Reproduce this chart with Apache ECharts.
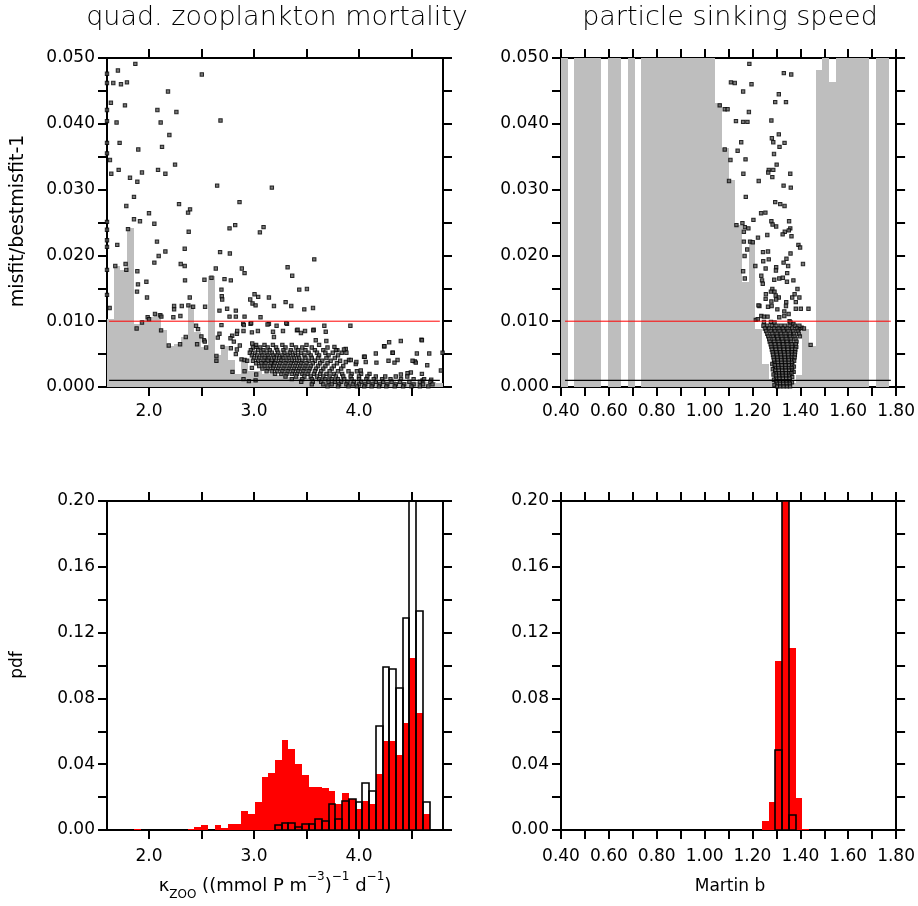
<!DOCTYPE html>
<html>
<head>
<meta charset="utf-8">
<script src="https://cdn.jsdelivr.net/npm/echarts@6/dist/echarts.min.js"></script>
<style>
  html, body { margin: 0; background: #fff; }
  #chart { width: 918px; height: 906px; }
</style>
</head>
<body>
<div id="chart"></div>
<script>
// bins of the parameter axes
var zooStart = 1.6, zooBin = 0.064;
var martinStart = 0.4, martinBin = 0.028;

// lower envelope of misfit (grey) per bin
var zooEnvelope = [0.0104,0.0184,0.0178,0.0241,0.0096,0.0102,0.0107,0.0112,0.0086,0.0063,
  0.0066,0.0076,0.0124,0.0084,0.0061,0.0168,0.0048,0.0063,0.0041,0.0020,
  0.0041,0.0025,0.0024,0.0020,0.0020,0.0018,0.0016,0.0015,0.0015,0.0014,
  0.0014,0.0013,0.0013,0.0012,0.0012,0.0011,0.0011,0.0010,0.0010,0.0010,
  0.0009,0.0009,0.0009,0.0008,0.0008,0.0008,0.0007,0.0007,0.0007,0.0006];
var martinEnvelope = [0.05,0,0.05,0.05,0.05,0.05,0,0.05,0.05,0,
  0.05,0,0.05,0.05,0.05,0.05,0.05,0.05,0.05,0.05,
  0.05,0.05,0.05,0.0432,0.0363,0.0315,0.0246,0.0160,0.0222,0.0088,
  0.0035,0.0012,0.0005,0.0005,0.0006,0.0018,0.0088,0.0062,0.0482,0.05,
  0.0464,0.05,0.05,0.05,0.05,0.05,0,0.05,0.05,0];

// pdf histograms: posterior (red) and outlined histogram
var zooPost = [0,0,0,0,0.0004,0,0,0,0,0,
  0,0,0.0008,0.0018,0.003,0,0.003,0.0012,0.0036,0.0036,
  0.0115,0.0099,0.017,0.032,0.0346,0.0425,0.0547,0.0492,0.040,0.0334,
  0.0261,0.0261,0.0255,0.0235,0.0158,0.0225,0.019,0.0128,0.0176,0.0158,
  0.034,0.054,0.054,0.0455,0.065,0.1045,0.071,0.0099,0,0];
var zooOutline = [0,0,0,0,0,0,0,0,0,0,
  0,0,0,0,0,0,0,0,0,0,
  0,0,0,0,0,0.0028,0.0045,0.004,0.002,0.0036,
  0.0036,0.0069,0.0057,0.016,0.0065,0.0178,0.0186,0.0172,0.0283,0.0235,
  0.063,0.0988,0.098,0.0866,0.1287,0.215,0.1334,0.0172,0,0];
var martinPost = [0,0,0,0,0,0,0,0,0,0,
  0,0,0,0,0,0,0,0,0,0,
  0,0,0,0,0,0,0,0,0,0,
  0.0057,0.0172,0.1027,0.215,0.1106,0.0197,0.0004,0,0,0,
  0,0,0,0,0,0,0,0,0,0];
var martinOutline = [0,0,0,0,0,0,0,0,0,0,
  0,0,0,0,0,0,0,0,0,0,
  0,0,0,0,0,0,0,0,0,0,
  0,0,0.0488,0.215,0.0091,0,0,0,0,0,
  0,0,0,0,0,0,0,0,0,0];

// reference lines
var misfitLimit = 0.01, misfitFloor = 0.001;
var zooLineSpan = [1.62, 4.77];
var martinLineSpan = [0.417, 1.778];

// misfit samples: quad. zooplankton mortality
var zooMisfit = [
  [1.870,0.0491],[1.704,0.0481],[1.600,0.0476],[1.660,0.0462],[1.733,0.0460],[1.790,0.0463],[1.600,0.0462],[2.503,0.0475],
  [2.181,0.0449],[1.637,0.0432],[1.771,0.0428],[2.080,0.0421],[2.261,0.0418],[1.600,0.0421],[1.691,0.0402],[2.111,0.0402],
  [1.600,0.0404],[2.681,0.0405],[2.194,0.0383],[1.720,0.0371],[1.600,0.0371],[2.124,0.0365],[1.898,0.0361],[1.600,0.0355],
  [1.628,0.0345],[2.248,0.0338],[1.711,0.0330],[1.933,0.0326],[2.086,0.0330],[1.641,0.0324],[2.156,0.0324],[1.819,0.0318],
  [1.889,0.0312],[2.649,0.0306],[3.170,0.0303],[2.862,0.0281],[1.857,0.0289],[1.784,0.0275],[2.286,0.0278],[2.391,0.0270],
  [2.372,0.0265],[2.000,0.0264],[1.857,0.0255],[1.914,0.0252],[2.051,0.0248],[1.600,0.0251],[1.600,0.0239],[1.600,0.0223],
  [1.600,0.0213],[2.821,0.0246],[2.767,0.0241],[3.091,0.0243],[3.056,0.0235],[1.800,0.0240],[2.378,0.0236],[2.076,0.0221],
  [1.698,0.0216],[2.156,0.0206],[2.092,0.0199],[2.340,0.0210],[2.677,0.0205],[2.770,0.0203],[3.574,0.0194],[2.051,0.0189],
  [1.679,0.0184],[1.777,0.0187],[1.784,0.0178],[2.302,0.0187],[2.340,0.0184],[2.636,0.0180],[2.884,0.0180],[2.910,0.0173],
  [3.320,0.0182],[1.889,0.0176],[3.364,0.0169],[1.600,0.0178],[1.600,0.0140],[2.595,0.0166],[2.719,0.0164],[2.779,0.0162],
  [2.343,0.0162],[2.528,0.0163],[1.895,0.0156],[1.975,0.0160],[3.431,0.0148],[3.504,0.0149],[1.886,0.0145],[2.690,0.0148],
  [2.693,0.0138],[2.697,0.0133],[1.981,0.0136],[2.388,0.0136],[3.005,0.0141],[3.040,0.0137],[2.964,0.0133],[2.986,0.0127],
  [3.015,0.0124],[3.142,0.0136],[3.301,0.0129],[3.355,0.0123],[3.479,0.0118],[3.562,0.0120],[1.625,0.0120],[2.239,0.0123],
  [2.312,0.0123],[2.239,0.0118],[2.375,0.0124],[2.420,0.0122],[2.534,0.0122],[3.190,0.0123],[2.671,0.0116],[2.744,0.0119],
  [2.827,0.0116],[2.767,0.0107],[2.827,0.0107],[2.910,0.0107],[3.062,0.0106],[2.057,0.0111],[2.108,0.0109],[2.118,0.0107],
  [1.987,0.0106],[2.000,0.0103],[1.933,0.0098],[1.882,0.0089],[2.232,0.0106],[2.299,0.0108],[2.188,0.0063],[2.296,0.0065],
  [2.350,0.0076],[3.670,0.0093],[3.918,0.0093],[4.595,0.0072],[4.796,0.0052],[2.115,0.0086],[2.448,0.0093],[2.467,0.0088],
  [2.458,0.0065],[2.499,0.0077],[2.524,0.0071],[2.531,0.0069],[2.544,0.0060],[2.642,0.0047],[2.642,0.0040],[2.655,0.0075],
  [2.671,0.0081],[2.690,0.0094],[2.700,0.0061],[2.779,0.0059],[2.792,0.0078],[2.837,0.0081],[2.808,0.0069],[2.837,0.0057],
  [2.827,0.0050],[2.865,0.0063],[2.897,0.0096],[2.900,0.0085],[2.881,0.0042],[2.910,0.0041],[2.935,0.0040],[2.967,0.0096],
  [2.980,0.0083],[2.983,0.0066],[3.015,0.0061],[2.795,0.0023],[2.910,0.0024],[2.980,0.0029],[3.021,0.0019],[2.900,0.0012],
  [2.951,0.0009],[3.015,0.0010],[3.142,0.0096],[3.215,0.0093],[3.314,0.0096],[3.181,0.0084],[3.190,0.0076],[3.276,0.0085],
  [3.409,0.0086],[3.447,0.0082],[3.486,0.0085],[3.568,0.0087],[3.689,0.0070],[3.588,0.0071],[3.766,0.0061],[3.794,0.0056],
  [3.836,0.0052],[3.874,0.0058],[3.880,0.0052],[3.905,0.0041],[3.874,0.0038],[3.922,0.0041],[3.969,0.0035],[4.048,0.0046],
  [4.064,0.0038],[4.017,0.0025],[4.160,0.0051],[4.166,0.0037],[4.239,0.0062],[4.287,0.0068],[4.319,0.0052],[4.367,0.0041],
  [4.338,0.0037],[4.281,0.0040],[4.599,0.0071],[4.551,0.0051],[4.669,0.0051],[4.532,0.0039],[4.541,0.0037],[4.650,0.0033],
  [4.780,0.0025],[4.399,0.0019],[4.494,0.0022],[4.462,0.0021],[4.599,0.0020],[4.688,0.0011],[4.605,0.0010],[4.242,0.0062],
  [4.322,0.0052],[4.398,0.0070],[4.510,0.0040],[3.683,0.0084],[3.565,0.0086],[3.415,0.0087],[3.307,0.0097],[3.129,0.0095],
  [3.037,0.0085],[2.973,0.0097],[2.903,0.0094],[2.840,0.0085],[2.776,0.0074],[4.055,0.0046],[3.975,0.0038],[3.857,0.0057],
  // dense band
  [3.02,0.0064],[3.10,0.0064],[3.18,0.0064],[3.27,0.0064],[3.36,0.0064],[3.50,0.0064],[3.62,0.0064],
  [2.99,0.0060],[3.06,0.0060],[3.13,0.0060],[3.21,0.0060],[3.30,0.0060],[3.40,0.0060],[3.46,0.0060],[3.55,0.0060],[3.70,0.0060],
  [2.97,0.0056],[3.04,0.0056],[3.09,0.0056],[3.15,0.0056],[3.22,0.0056],[3.28,0.0056],[3.35,0.0056],[3.42,0.0056],[3.49,0.0056],[3.58,0.0056],[3.66,0.0056],[3.78,0.0056],
  [2.96,0.0052],[3.01,0.0052],[3.07,0.0052],[3.12,0.0052],[3.17,0.0052],[3.23,0.0052],[3.29,0.0052],[3.34,0.0052],[3.39,0.0052],[3.45,0.0052],[3.52,0.0052],[3.60,0.0052],[3.68,0.0052],[3.75,0.0052],
  [2.98,0.0048],[3.03,0.0048],[3.08,0.0048],[3.13,0.0048],[3.18,0.0048],[3.22,0.0048],[3.27,0.0048],[3.32,0.0048],[3.37,0.0048],[3.42,0.0048],[3.48,0.0048],[3.54,0.0048],[3.62,0.0048],[3.71,0.0048],[3.80,0.0048],
  [3.00,0.0044],[3.05,0.0044],[3.10,0.0044],[3.14,0.0044],[3.19,0.0044],[3.24,0.0044],[3.28,0.0044],[3.33,0.0044],[3.38,0.0044],[3.43,0.0044],[3.49,0.0044],[3.55,0.0044],[3.61,0.0044],[3.69,0.0044],[3.77,0.0044],
  [2.99,0.0040],[3.04,0.0040],[3.09,0.0040],[3.13,0.0040],[3.17,0.0040],[3.21,0.0040],[3.26,0.0040],[3.31,0.0040],[3.36,0.0040],[3.41,0.0040],[3.46,0.0040],[3.52,0.0040],[3.58,0.0040],[3.65,0.0040],[3.73,0.0040],[3.82,0.0040],
  [3.02,0.0036],[3.07,0.0036],[3.11,0.0036],[3.16,0.0036],[3.20,0.0036],[3.25,0.0036],[3.30,0.0036],[3.35,0.0036],[3.40,0.0036],[3.45,0.0036],[3.50,0.0036],[3.56,0.0036],[3.63,0.0036],[3.70,0.0036],[3.79,0.0036],
  [3.05,0.0032],[3.10,0.0032],[3.15,0.0032],[3.19,0.0032],[3.24,0.0032],[3.29,0.0032],[3.34,0.0032],[3.39,0.0032],[3.44,0.0032],[3.49,0.0032],[3.54,0.0032],[3.61,0.0032],[3.68,0.0032],[3.76,0.0032],[3.85,0.0032],
  [3.08,0.0028],[3.13,0.0028],[3.18,0.0028],[3.23,0.0028],[3.28,0.0028],[3.33,0.0028],[3.38,0.0028],[3.43,0.0028],[3.48,0.0028],[3.53,0.0028],[3.59,0.0028],[3.66,0.0028],[3.74,0.0028],[3.83,0.0028],
  [3.12,0.0024],[3.17,0.0024],[3.22,0.0024],[3.27,0.0024],[3.32,0.0024],[3.37,0.0024],[3.42,0.0024],[3.47,0.0024],[3.52,0.0024],[3.58,0.0024],[3.64,0.0024],[3.72,0.0024],[3.80,0.0024],[3.90,0.0024],[3.98,0.0024],
  [3.20,0.0020],[3.26,0.0020],[3.31,0.0020],[3.36,0.0020],[3.41,0.0020],[3.46,0.0020],[3.51,0.0020],[3.57,0.0020],[3.63,0.0020],[3.69,0.0020],[3.76,0.0020],[3.84,0.0020],[3.93,0.0020],[4.02,0.0020],[4.10,0.0020],
  [3.30,0.0016],[3.40,0.0016],[3.48,0.0016],[3.54,0.0016],[3.60,0.0016],[3.66,0.0016],[3.72,0.0016],[3.78,0.0016],[3.85,0.0016],[3.92,0.0016],[4.00,0.0016],[4.08,0.0016],[4.16,0.0016],[4.25,0.0016],[4.35,0.0016],[4.46,0.0016],
  [3.36,0.0012],[3.46,0.0012],[3.55,0.0012],[3.62,0.0012],[3.68,0.0012],[3.74,0.0012],[3.80,0.0012],[3.86,0.0012],[3.93,0.0012],[4.00,0.0012],[4.07,0.0012],[4.14,0.0012],[4.22,0.0012],[4.30,0.0012],[4.40,0.0012],[4.52,0.0012],[4.62,0.0012],
  [3.45,0.0008],[3.56,0.0008],[3.64,0.0008],[3.71,0.0008],[3.77,0.0008],[3.83,0.0008],[3.89,0.0008],[3.95,0.0008],[4.02,0.0008],[4.09,0.0008],[4.16,0.0008],[4.23,0.0008],[4.31,0.0008],[4.39,0.0008],[4.48,0.0008],[4.58,0.0008],[4.68,0.0008],
  [3.55,0.0004],[3.66,0.0004],[3.74,0.0004],[3.81,0.0004],[3.88,0.0004],[3.94,0.0004],[4.00,0.0004],[4.06,0.0004],[4.13,0.0004],[4.20,0.0004],[4.27,0.0004],[4.35,0.0004],[4.43,0.0004],[4.52,0.0004],[4.61,0.0004],[4.70,0.0004],
  [3.70,0.0001],[3.80,0.0001],[3.90,0.0001],[3.98,0.0001],[4.05,0.0001],[4.12,0.0001],[4.19,0.0001],[4.26,0.0001],[4.34,0.0001],[4.42,0.0001],[4.50,0.0001],[4.58,0.0001],[4.66,0.0001]
];

// misfit samples: particle sinking speed (Martin b)
var martinMisfit = [
  [1.187,0.0491],[1.331,0.0477],[1.362,0.0475],[1.110,0.0463],[1.126,0.0462],[1.196,0.0460],[1.161,0.0449],[1.310,0.0445],
  [1.295,0.0433],[1.340,0.0433],[1.063,0.0428],[1.084,0.0422],[1.096,0.0422],[1.185,0.0418],[1.279,0.0405],[1.131,0.0404],
  [1.161,0.0403],[1.179,0.0403],[1.310,0.0384],[1.281,0.0378],[1.287,0.0372],[1.334,0.0371],[1.313,0.0365],[1.153,0.0372],
  [1.084,0.0361],[1.138,0.0359],[1.290,0.0354],[1.108,0.0345],[1.171,0.0346],[1.301,0.0338],[1.287,0.0330],[1.268,0.0330],
  [1.283,0.0319],[1.226,0.0313],[1.266,0.0326],[1.162,0.0324],[1.358,0.0324],[1.102,0.0313],[1.330,0.0306],[1.360,0.0303],
  [1.172,0.0289],[1.295,0.0281],[1.316,0.0278],[1.334,0.0275],[1.236,0.0264],[1.254,0.0265],[1.204,0.0254],[1.133,0.0246],
  [1.158,0.0249],[1.168,0.0243],[1.183,0.0241],[1.164,0.0236],[1.279,0.0252],[1.284,0.0247],[1.299,0.0244],[1.353,0.0252],
  [1.358,0.0241],[1.352,0.0238],[1.335,0.0236],[1.326,0.0232],[1.262,0.0231],[1.223,0.0227],[1.363,0.0229],[1.164,0.0221],
  [1.190,0.0221],[1.201,0.0220],[1.392,0.0216],[1.399,0.0212],[1.178,0.0209],[1.244,0.0205],[1.265,0.0206],[1.359,0.0203],
  [1.167,0.0199],[1.342,0.0195],[1.330,0.0189],[1.411,0.0187],[1.245,0.0191],[1.268,0.0194],[1.212,0.0184],[1.255,0.0180],
  [1.299,0.0182],[1.298,0.0177],[1.345,0.0173],[1.349,0.0184],[1.161,0.0176],[1.168,0.0165],[1.237,0.0169],[1.240,0.0162],
  [1.243,0.0157],[1.291,0.0163],[1.312,0.0165],[1.327,0.0166],[1.344,0.0160],[1.371,0.0162],[1.388,0.0149],[1.283,0.0149],
  [1.292,0.0145],[1.277,0.0145],[1.256,0.0141],[1.297,0.0139],[1.310,0.0136],[1.255,0.0134],[1.279,0.0130],[1.299,0.0133],
  [1.376,0.0141],[1.366,0.0136],[1.396,0.0136],[1.381,0.0129],[1.229,0.0123],[1.225,0.0124],[1.265,0.0122],[1.280,0.0123],
  [1.304,0.0118],[1.340,0.0123],[1.333,0.0115],[1.381,0.0119],[1.402,0.0119],[1.434,0.0119],[1.341,0.0129],[1.237,0.0108],
  [1.248,0.0107],[1.263,0.0107],[1.214,0.0102],[1.222,0.0103],[1.248,0.0099],[1.277,0.0099],[1.292,0.0098],[1.312,0.0106],
  [1.333,0.0108],[1.351,0.0111],[1.355,0.0100],[1.443,0.0064],[1.405,0.0090],[1.395,0.0088],[1.359,0.0098],[1.371,0.0096],
  // dense cluster
  [1.246,0.0093],[1.262,0.0093],[1.281,0.0093],[1.300,0.0093],[1.318,0.0093],[1.336,0.0093],[1.355,0.0093],[1.377,0.0093],[1.396,0.0093],
  [1.252,0.0089],[1.270,0.0089],[1.290,0.0089],[1.309,0.0089],[1.327,0.0089],[1.346,0.0089],[1.366,0.0089],[1.386,0.0089],[1.415,0.0089],
  [1.257,0.0085],[1.276,0.0085],[1.294,0.0085],[1.313,0.0085],[1.331,0.0085],[1.350,0.0085],[1.370,0.0085],[1.390,0.0085],
  [1.262,0.0081],[1.283,0.0081],[1.301,0.0081],[1.319,0.0081],[1.338,0.0081],[1.356,0.0081],[1.374,0.0081],[1.395,0.0081],
  [1.266,0.0077],[1.285,0.0077],[1.303,0.0077],[1.321,0.0077],[1.339,0.0077],[1.357,0.0077],[1.376,0.0077],[1.398,0.0077],
  [1.270,0.0073],[1.289,0.0073],[1.306,0.0073],[1.324,0.0073],[1.342,0.0073],[1.360,0.0073],[1.380,0.0073],
  [1.272,0.0069],[1.291,0.0069],[1.309,0.0069],[1.327,0.0069],[1.344,0.0069],[1.362,0.0069],[1.384,0.0069],
  [1.276,0.0065],[1.294,0.0065],[1.311,0.0065],[1.328,0.0065],[1.346,0.0065],[1.364,0.0065],[1.381,0.0065],
  [1.279,0.0061],[1.296,0.0061],[1.313,0.0061],[1.330,0.0061],[1.347,0.0061],[1.365,0.0061],[1.383,0.0061],
  [1.281,0.0057],[1.298,0.0057],[1.314,0.0057],[1.331,0.0057],[1.348,0.0057],[1.366,0.0057],[1.379,0.0057],
  [1.284,0.0053],[1.300,0.0053],[1.316,0.0053],[1.332,0.0053],[1.349,0.0053],[1.365,0.0053],[1.378,0.0053],
  [1.286,0.0049],[1.302,0.0049],[1.318,0.0049],[1.334,0.0049],[1.350,0.0049],[1.366,0.0049],[1.377,0.0049],
  [1.288,0.0045],[1.304,0.0045],[1.319,0.0045],[1.335,0.0045],[1.351,0.0045],[1.364,0.0045],[1.376,0.0045],
  [1.290,0.0041],[1.305,0.0041],[1.320,0.0041],[1.336,0.0041],[1.352,0.0041],[1.366,0.0041],[1.374,0.0040],
  [1.291,0.0037],[1.306,0.0037],[1.321,0.0037],[1.337,0.0037],[1.352,0.0037],[1.365,0.0037],[1.283,0.0035],
  [1.293,0.0033],[1.308,0.0033],[1.322,0.0033],[1.338,0.0033],[1.353,0.0033],[1.366,0.0033],[1.373,0.0031],
  [1.294,0.0029],[1.309,0.0029],[1.323,0.0029],[1.338,0.0029],[1.353,0.0029],[1.364,0.0029],[1.285,0.0027],
  [1.295,0.0025],[1.310,0.0025],[1.324,0.0025],[1.339,0.0025],[1.354,0.0025],[1.366,0.0025],[1.372,0.0023],
  [1.297,0.0021],[1.311,0.0021],[1.325,0.0021],[1.340,0.0021],[1.354,0.0021],[1.363,0.0021],[1.288,0.0019],
  [1.298,0.0017],[1.312,0.0017],[1.326,0.0017],[1.340,0.0017],[1.355,0.0017],[1.366,0.0015],
  [1.299,0.0013],[1.313,0.0013],[1.327,0.0013],[1.341,0.0013],[1.355,0.0013],[1.290,0.0011],
  [1.300,0.0009],[1.314,0.0009],[1.328,0.0009],[1.342,0.0009],[1.356,0.0009],[1.365,0.0007],
  [1.302,0.0005],[1.315,0.0005],[1.329,0.0005],[1.343,0.0005],[1.356,0.0005],[1.292,0.0003],
  [1.303,0.0001],[1.316,0.0001],[1.330,0.0001],[1.344,0.0001],[1.357,0.0001]
];

// ticks and labels
var zooTicks = [2.0, 2.5, 3.0, 3.5, 4.0, 4.5];
var zooLabels = [2.0, 3.0, 4.0];
var martinTicks = [0.4,0.5,0.6,0.7,0.8,0.9,1.0,1.1,1.2,1.3,1.4,1.5,1.6,1.7,1.8];
var martinLabels = [0.4,0.6,0.8,1.0,1.2,1.4,1.6,1.8];
var misfitTicks = [0,0.005,0.01,0.015,0.02,0.025,0.03,0.035,0.04,0.045,0.05];
var misfitLabels = [0,0.01,0.02,0.03,0.04,0.05];
var pdfTicks = [0,0.02,0.04,0.06,0.08,0.1,0.12,0.14,0.16,0.18,0.2];
var pdfLabels = [0,0.04,0.08,0.12,0.16,0.2];

var FONT = 'DejaVu Sans';

function binData(start, width, values) {
  var out = [];
  values.forEach(function (v, i) {
    if (v > 0) out.push([start + i * width, start + (i + 1) * width, v]);
  });
  return out;
}

// rectangles snapped to whole pixels so neighbouring bins don't leave seams
function rectRenderer(fill, stroke, lw) {
  return function (params, api) {
    var a = api.coord([api.value(0), 0]);
    var b = api.coord([api.value(1), api.value(2)]);
    var x0 = Math.round(a[0]), x1 = Math.round(b[0]);
    var bottom = Math.round(a[1]);
    var top = Math.round(Math.max(b[1], params.coordSys.y));
    return {
      type: 'rect',
      shape: { x: x0, y: top, width: x1 - x0, height: bottom - top },
      style: { fill: fill, stroke: stroke, lineWidth: lw }
    };
  };
}

function xAxes(g, min, max, ticks, labels, digits, margin) {
  var line = { onZero: false, lineStyle: { color: '#000', width: 2 } };
  var tick = { customValues: ticks, length: 9, lineStyle: { color: '#000', width: 2 } };
  return [
    { gridIndex: g, type: 'value', min: min, max: max, position: 'bottom',
      axisLine: line, axisTick: tick, splitLine: { show: false },
      axisLabel: { customValues: labels, margin: margin, fontFamily: FONT, fontSize: 17, color: '#000',
        formatter: function (v) { return v.toFixed(digits); } } },
    { gridIndex: g, type: 'value', min: min, max: max, position: 'top',
      axisLine: line, axisTick: tick, splitLine: { show: false }, axisLabel: { show: false } }
  ];
}

function yAxes(g, max, ticks, labels, digits) {
  var line = { onZero: false, lineStyle: { color: '#000', width: 2 } };
  var tick = { customValues: ticks, length: 9, lineStyle: { color: '#000', width: 2 } };
  return [
    { gridIndex: g, type: 'value', min: 0, max: max, position: 'left',
      axisLine: line, axisTick: tick, splitLine: { show: false },
      axisLabel: { customValues: labels, margin: 12, fontFamily: FONT, fontSize: 17, color: '#000',
        formatter: function (v) { return v.toFixed(digits); } } },
    { gridIndex: g, type: 'value', min: 0, max: max, position: 'right',
      axisLine: line, axisTick: tick, splitLine: { show: false }, axisLabel: { show: false } }
  ];
}

function misfitSeries(g, envStart, envBin, envelope, points, span) {
  return [
    { type: 'custom', xAxisIndex: 2 * g, yAxisIndex: 2 * g, z: 1, silent: true,
      renderItem: rectRenderer('#bebebe', null, 0),
      encode: { x: [0, 1], y: 2 }, data: binData(envStart, envBin, envelope) },
    { type: 'scatter', xAxisIndex: 2 * g, yAxisIndex: 2 * g, z: 2, silent: true,
      symbol: 'rect', symbolSize: 3.4,
      itemStyle: { color: '#555', borderColor: '#000', borderWidth: 1 },
      data: points },
    { type: 'line', xAxisIndex: 2 * g, yAxisIndex: 2 * g, z: 3, silent: true, symbol: 'none',
      lineStyle: { color: '#ff0000', width: 1 },
      data: [[span[0], misfitLimit], [span[1], misfitLimit]] },
    { type: 'line', xAxisIndex: 2 * g, yAxisIndex: 2 * g, z: 3, silent: true, symbol: 'none',
      lineStyle: { color: '#000', width: 1.4 },
      data: [[span[0], misfitFloor], [span[1], misfitFloor]] }
  ];
}

function pdfSeries(g, start, bin, post, outline) {
  return [
    { type: 'custom', xAxisIndex: 2 * g, yAxisIndex: 2 * g, z: 1, silent: true,
      renderItem: rectRenderer('#ff0000', null, 0),
      encode: { x: [0, 1], y: 2 }, data: binData(start, bin, post) },
    { type: 'custom', xAxisIndex: 2 * g, yAxisIndex: 2 * g, z: 2, silent: true,
      renderItem: rectRenderer('rgba(0,0,0,0)', '#000', 1.6),
      encode: { x: [0, 1], y: 2 }, data: binData(start, bin, outline) }
  ];
}

var chart = echarts.init(document.getElementById('chart'), null, { renderer: 'canvas' });

var option = {
  backgroundColor: '#fff',
  animation: false,
  grid: [
    { left: 107, top: 58, width: 336, height: 329 },
    { left: 561, top: 58, width: 337, height: 329 },
    { left: 107, top: 501, width: 336, height: 329 },
    { left: 561, top: 501, width: 337, height: 329 }
  ],
  xAxis: [].concat(
    xAxes(0, 1.6, 4.8, zooTicks, zooLabels, 1, 16),
    xAxes(1, 0.4, 1.8, martinTicks, martinLabels, 2, 16),
    xAxes(2, 1.6, 4.8, zooTicks, zooLabels, 1, 18),
    xAxes(3, 0.4, 1.8, martinTicks, martinLabels, 2, 18)
  ),
  yAxis: [].concat(
    yAxes(0, 0.05, misfitTicks, misfitLabels, 3),
    yAxes(1, 0.05, misfitTicks, misfitLabels, 3),
    yAxes(2, 0.2, pdfTicks, pdfLabels, 2),
    yAxes(3, 0.2, pdfTicks, pdfLabels, 2)
  ),
  series: [].concat(
    misfitSeries(0, zooStart, zooBin, zooEnvelope, zooMisfit, zooLineSpan),
    misfitSeries(1, martinStart, martinBin, martinEnvelope, martinMisfit, martinLineSpan),
    pdfSeries(2, zooStart, zooBin, zooPost, zooOutline),
    pdfSeries(3, martinStart, martinBin, martinPost, martinOutline)
  ),
  graphic: [
    { type: 'text', x: 277, y: 18, style: { text: 'quad. zooplankton mortality', fontFamily: FONT,
      fontSize: 27, fontWeight: 200, fill: '#000', align: 'center', verticalAlign: 'middle' } },
    { type: 'text', x: 730, y: 18, style: { text: 'particle sinking speed', fontFamily: FONT,
      fontSize: 27, fontWeight: 200, fill: '#000', align: 'center', verticalAlign: 'middle' } },
    { type: 'text', x: 18, y: 221, rotation: Math.PI / 2, style: { text: 'misfit/bestmisfit-1',
      fontFamily: FONT, fontSize: 19, fill: '#000', align: 'center', verticalAlign: 'middle' } },
    { type: 'text', x: 18, y: 665, rotation: Math.PI / 2, style: { text: 'pdf',
      fontFamily: FONT, fontSize: 17, fill: '#000', align: 'center', verticalAlign: 'middle' } },
    { type: 'text', x: 275, y: 886, style: {
      text: '{b|κ}{sub|ZOO}{b| ((mmol P m}{sup|−3}{b|)}{sup|−1}{b| d}{sup|−1}{b|)}',
      fontFamily: FONT, fill: '#000', align: 'center', verticalAlign: 'middle',
      rich: {
        b: { fontFamily: FONT, fontSize: 18, lineHeight: 30, verticalAlign: 'middle' },
        sub: { fontFamily: FONT, fontSize: 12, lineHeight: 12, verticalAlign: 'bottom' },
        sup: { fontFamily: FONT, fontSize: 12, lineHeight: 12, verticalAlign: 'top' }
      } } },
    { type: 'text', x: 730, y: 887, style: { text: 'Martin b', fontFamily: FONT, fontSize: 17,
      fill: '#000', align: 'center', verticalAlign: 'middle' } }
  ]
};

chart.setOption(option);
</script>
</body>
</html>
